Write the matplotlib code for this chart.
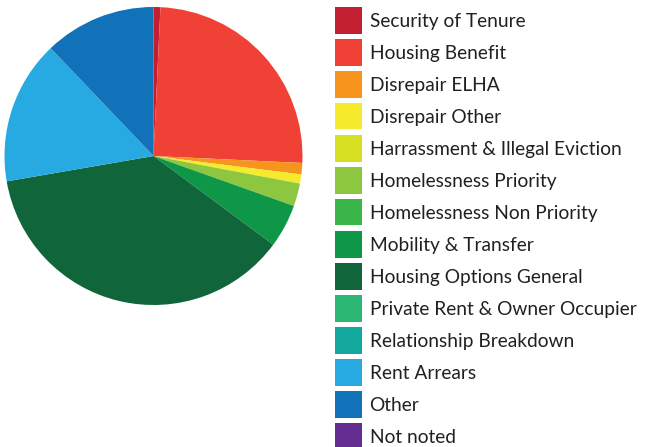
import matplotlib.pyplot as plt
from matplotlib.patches import Rectangle

# enquiry categories and counts
categories = ['Security of Tenure', 'Housing Benefit', 'Disrepair ELHA', 'Disrepair Other',
              'Harrassment & Illegal Eviction', 'Homelessness Priority',
              'Homelessness Non Priority', 'Mobility & Transfer', 'Housing Options General',
              'Private Rent & Owner Occupier', 'Relationship Breakdown', 'Rent Arrears',
              'Other', 'Not noted']
counts = [3, 101, 5, 4, 0, 10, 0, 19, 150, 0, 0, 63, 49, 0]
colours = ['#c21f30', '#ef4136', '#f7941d', '#f5ea2b', '#d7df23', '#8dc63f', '#39b54a',
           '#0f9748', '#10663a', '#2bb673', '#13a89e', '#27aae1', '#1172ba', '#662d91']

W, H = 648, 447
fig = plt.figure(figsize=(W / 100, H / 100), dpi=100)

cx, cy, r = 153.5, 156, 149
ax = fig.add_axes([(cx - r) / W, (H - cy - r) / H, 2 * r / W, 2 * r / H])
ax.pie(counts, colors=colours, startangle=90, counterclock=False,
       wedgeprops={'linewidth': 0})
ax.set_aspect('equal')
ax.set_xlim(-1, 1)
ax.set_ylim(-1, 1)
ax.axis('off')

# legend: swatch + label, one row per category (pixel layout, top-down)
x0, y0, box, pitch = 335, 7, 26.5, 32
for i, (lab, col) in enumerate(zip(categories, colours)):
    top = y0 + i * pitch
    fig.patches.append(Rectangle((x0 / W, 1 - (top + box) / H), box / W, box / H,
                                 transform=fig.transFigure, facecolor=col,
                                 edgecolor='none'))
    fig.text((x0 + box + 8) / W, 1 - (top + box / 2 + 1) / H, lab, family='Lato',
             fontsize=13.8, color='#231f20', va='center', ha='left')

fig.savefig('out.png', dpi=100)
